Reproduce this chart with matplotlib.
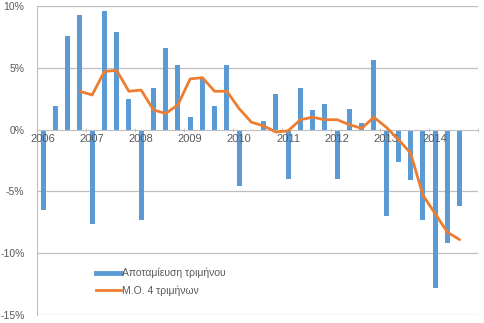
import matplotlib.pyplot as plt
from matplotlib.lines import Line2D
from matplotlib.ticker import FuncFormatter, FixedLocator

plt.rcParams['font.family'] = ['Liberation Sans', 'DejaVu Sans']

# quarterly savings change, 2006Q1 .. 2014Q3 (%)
years = ['2006', '2007', '2008', '2009', '2010', '2011', '2012', '2013', '2014']
quarter_vals = [-6.5, 1.9, 7.6, 9.3,
                -7.6, 9.6, 7.9, 2.5,
                -7.3, 3.4, 6.6, 5.2,
                1.0, 4.2, 1.9, 5.2,
                -4.6, 0.0, 0.7, 2.9,
                -4.0, 3.4, 1.6, 2.1,
                -4.0, 1.7, 0.5, 5.6,
                -7.0, -2.6, -4.1, -7.3,
                -12.8, -9.2, -6.2]
# 4-quarter moving average, starts at 2006Q4
ma_vals = [3.1, 2.8, 4.7, 4.8, 3.1, 3.2, 1.6, 1.3, 2.0,
           4.1, 4.2, 3.1, 3.1, 1.7, 0.6, 0.3, -0.2, -0.1,
           0.8, 1.0, 0.8, 0.8, 0.4, 0.1, 1.0, 0.2, -0.8,
           -1.9, -5.3, -6.8, -8.3, -8.9]

labels = ['Αποταμίευση τριμήνου', 'Μ.Ο. 4 τριμήνων']
blue = '#5B9BD5'
orange = '#ED7D31'
grey = '#BFBFBF'
txt = '#595959'

n_cat = 36
x_bar = list(range(len(quarter_vals)))
x_ma = list(range(3, 3 + len(ma_vals)))

fig = plt.figure(figsize=(4.85, 3.23), dpi=100)
ax = fig.add_axes([37 / 485, 8 / 323, 441 / 485, 309 / 323])

for y in [-15, -10, -5, 5, 10]:
    ax.axhline(y, color=grey, lw=0.9, zorder=0)

ax.bar(x_bar, quarter_vals, width=0.4, color=blue, zorder=2)
ax.plot(x_ma, ma_vals, color=orange, lw=2.0, solid_joinstyle='round',
        solid_capstyle='round', zorder=3)

ax.set_xlim(-0.5, n_cat - 0.5)
ax.set_ylim(-15, 10)
ax.set_yticks([-15, -10, -5, 0, 5, 10])
ax.yaxis.set_major_formatter(FuncFormatter(lambda v, p: f'{int(v)}%'))

# year labels on Q1, tick marks between categories
ax.set_xticks([4 * i for i in range(len(years))])
ax.set_xticklabels(years)
ax.xaxis.set_minor_locator(FixedLocator([4 * i - 0.5 for i in range(1, 10)]))

ax.spines['bottom'].set_position(('data', 0))
ax.spines['bottom'].set_color(grey)
ax.spines['left'].set_color(grey)
ax.spines['top'].set_visible(False)
ax.spines['right'].set_visible(False)
ax.set_axisbelow(False)

ax.tick_params(axis='x', which='major', length=0, pad=3, labelsize=8, labelcolor=txt)
ax.tick_params(axis='x', which='minor', length=3, direction='inout', color=grey)
ax.tick_params(axis='y', length=0, pad=9, labelsize=7.5, labelcolor=txt)

handles = [Line2D([], [], color=blue, lw=3.5),
           Line2D([], [], color=orange, lw=2.0)]
ax.legend(handles, labels, loc='upper left', bbox_to_anchor=(0.113, 0.183),
          frameon=False, fontsize=7.5, handlelength=2.4, handletextpad=0.05,
          labelspacing=0.7, labelcolor=txt)

fig.savefig('out.png', dpi=100)
